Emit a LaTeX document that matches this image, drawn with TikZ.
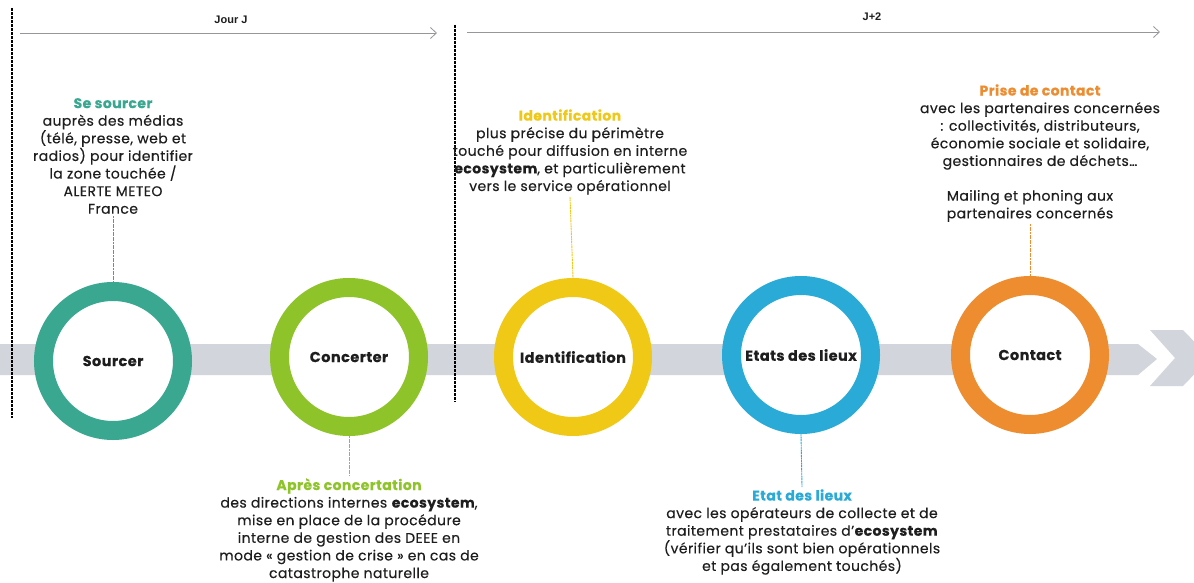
\documentclass[tikz,border=0pt]{standalone}
\usepackage{fontspec}
\setmainfont{Poppins}[FakeBold=0.25,LetterSpace=3]
\newfontfamily\arialf{Liberation Sans}
\usetikzlibrary{arrows.meta}
\definecolor{cteal}{RGB}{58,168,145}
\definecolor{cgreen}{RGB}{142,196,42}
\definecolor{cyellow}{RGB}{240,200,22}
\definecolor{cblue}{RGB}{42,170,214}
\definecolor{corange}{RGB}{238,140,48}
\definecolor{cband}{RGB}{210,213,220}
\definecolor{ctext}{RGB}{30,30,30}
\definecolor{carrow}{RGB}{150,150,155}
\tikzset{
  x=1pt,y=-1pt,
  ring/.style={circle,draw=#1,line width=19pt,fill=white,minimum size=139pt,inner sep=0pt,
     font=\fontsize{14.5}{17}\selectfont\bfseries,text=ctext},
  desc/.style={align=center,text=ctext,font=\fontsize{14}{17.6}\selectfont,inner sep=2pt},
  conn/.style={draw=#1,line width=0.9pt,densely dashed,dash pattern=on 2pt off 0.6pt},
  sep/.style={draw=black,line width=1.1pt,dash pattern=on 3pt off 1pt},
  timeline/.style={draw=carrow,line width=0.8pt,-{Straight Barb[length=6pt,width=11pt,line width=0.8pt]}},
  tlabel/.style={font=\arialf\fontsize{11}{12}\selectfont\bfseries,text=ctext,inner sep=1pt}
}
\begin{document}
\begin{tikzpicture}
\useasboundingbox (0,0) rectangle (1194,583);
\fill[white] (0,0) rectangle (1194,583);
% band
\fill[cband] (0,344) -- (1138,344) -- (1157,359) -- (1138,375) -- (0,375) -- cycle;
\fill[cband] (1150,330) -- (1183,330) -- (1210,358) -- (1183,386) -- (1150,386) -- (1175,358) -- cycle;
% separators
\coordinate (s1a) at (12,8); \coordinate (s1b) at (12,418);
\coordinate (s2a) at (455,25); \coordinate (s2b) at (455,402);
\draw[sep] (s1a) -- (s1b);
\draw[sep] (s2a) -- (s2b);
% timelines
\coordinate (t1a) at (20,33); \coordinate (t1b) at (437,33);
\coordinate (t2a) at (467,32); \coordinate (t2b) at (1160,32);
\draw[timeline] (t1a) -- (t1b);
\draw[timeline] (t2a) -- (t2b);
\node[tlabel] (jj) at (231,20) {Jour J};
\node[tlabel] (j2) at (872,17) {J+2};
% circles
\node[ring=cteal] (c1) at (113,361) {Sourcer};
\node[ring=cgreen] (c2) at (349,357) {Concerter};
\node[ring=cyellow] (c3) at (573,357) {Identification};
\node[ring=cblue] (c4) at (801,355) {Etats des lieux};
\node[ring=corange] (c5) at (1030,355) {Contact};
% texts
\node[desc] (d1) at (113,156) {{\bfseries\color{cteal}Se sourcer}\\auprès des médias\\(télé, presse, web et\\radios) pour identifier\\la zone touchée /\\ALERTE METEO\\France};
\node[desc] (d3) at (570,152) {{\bfseries\color{cyellow}Identification}\\plus précise du périmètre\\touché pour diffusion en interne\\\textbf{ecosystem}, et particulièrement\\vers le service opérationnel};
\node[desc] (d5a) at (1040,127) {{\bfseries\color{corange}Prise de contact}\\avec les partenaires concernées\\: collectivités, distributeurs,\\économie sociale et solidaire,\\gestionnaires de déchets…};
\node[desc] (d5) at (1030,206) {Mailing et phoning aux\\partenaires concernés};
\node[desc] (d2) at (349,530) {{\bfseries\color{cgreen}Après concertation}\\des directions internes \textbf{ecosystem},\\mise en place de la procédure\\interne de gestion des DEEE en\\mode « gestion de crise » en cas de\\catastrophe naturelle};
\node[desc] (d4) at (802,532) {{\bfseries\color{cblue}Etat des lieux}\\avec les opérateurs de collecte et de\\traitement prestataires d’\textbf{ecosystem}\\(vérifier qu’ils sont bien opérationnels\\et pas également touchés)};
% connectors
\draw[conn=cteal] (d1.south) -- (c1.north);
\draw[conn=cgreen] (c2.south) -- (d2.north);
\draw[conn=cyellow] (d3.south) -- (c3.north);
\draw[conn=cblue] (c4.south) -- (d4.north);
\draw[conn=corange] (d5.south) -- (c5.north);
\end{tikzpicture}
\end{document}
